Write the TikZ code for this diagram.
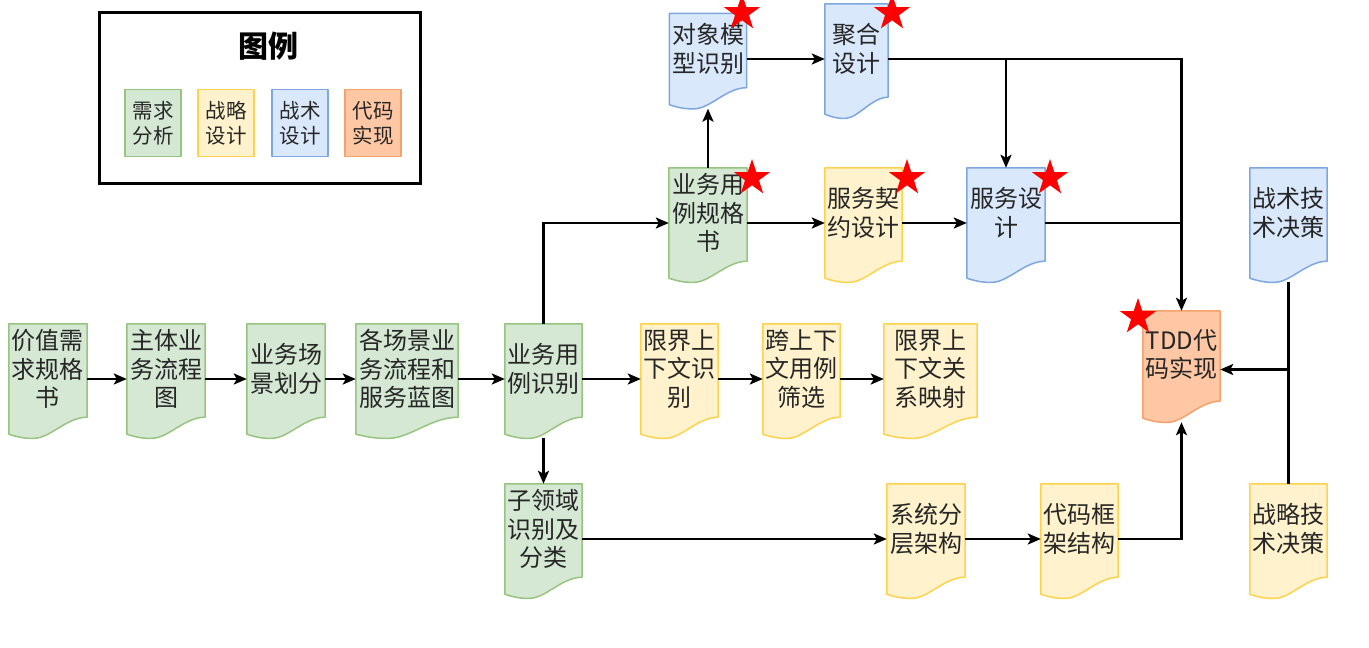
\documentclass[tikz,border=0pt]{standalone}
\usepackage{fontspec}
\setmainfont{Noto Sans CJK SC}
\usetikzlibrary{arrows.meta,calc,backgrounds,shapes.geometric}
\definecolor{reqfill}{HTML}{D5E8D4}
\definecolor{reqline}{HTML}{97C47E}
\definecolor{strfill}{HTML}{FFF2CC}
\definecolor{strline}{HTML}{FFD24D}
\definecolor{tacfill}{HTML}{DAE8FC}
\definecolor{tacline}{HTML}{7EA6E0}
\definecolor{codfill}{HTML}{FFC7A3}
\definecolor{codline}{HTML}{F5A26A}

\begin{document}
\begin{tikzpicture}[
    x=1pt, y=-1pt,
    font=\fontsize{24}{28.5}\selectfont,
    doctext/.style={align=center, inner sep=0pt, yshift=10pt, text=black!85},
    outline/.style={line width=1.5pt, line join=round},
    req/.style={fill=reqfill, draw=reqline},
    str/.style={fill=strfill, draw=strline},
    tac/.style={fill=tacfill, draw=tacline},
    cod/.style={fill=codfill, draw=codline},
    flow/.style={line width=2.5pt, -{Stealth[length=13pt,width=11pt,inset=3pt]}},
    joinline/.style={line width=2.5pt},
    redstar/.style={star, star points=5, star point ratio=2.6, fill=red, minimum size=38pt, inner sep=0pt},
    legitem/.style={outline, minimum width=56pt, minimum height=67pt, align=center,
        inner sep=0pt, text=black!85, font=\fontsize{20.5}{25}\selectfont}
]

\useasboundingbox (0,0) rectangle (1369,648);

% legend
\node[draw, line width=3pt, minimum width=321pt, minimum height=171pt] (legend) at (259.5,97.5) {};
\node (legtitle) at (268,46) {\fontsize{30}{34}\selectfont\bfseries 图例};
\node[legitem, req] (legreq) at (153,123) {需求\\分析};
\node[legitem, str] (legstr) at (226,123) {战略\\设计};
\node[legitem, tac] (legtac) at (300,123) {战术\\设计};
\node[legitem, cod] (legcod) at (373,123) {代码\\实现};

% document shapes
\foreach \n/\x/\y/\w/\h/\c/\t in {
    gz/48/379/78/110/req/价值需\\求规格\\书,
    zt/166/379/78/110/req/主体业\\务流程\\图,
    cj/286/379/78/110/req/业务场\\景划分,
    gcj/407/379/102/110/req/各场景业\\务流程和\\服务蓝图,
    ylsb/543.5/379/77/110/req/业务用\\例识别,
    xjsb/679.5/379/77/110/str/限界上\\下文识\\别,
    kyl/801.5/379/77/110/str/跨上下\\文用例\\筛选,
    gxys/930.5/379/93/110/str/限界上\\下文关\\系映射,
    zly/543.5/539/77/110/req/子领域\\识别及\\分类,
    ylgg/708/223/78/110/req/业务用\\例规格\\书,
    fwqy/863.5/223/77/110/str/服务契\\约设计,
    fw/1006/223/78/110/tac/服务设\\计,
    zs/1288.5/223/77/110/tac/战术技\\术决策,
    dx/708/59/77/91/tac/对象模\\型识别,
    jh/856.5/59/63/110/tac/聚合\\设计,
    tdd/1181.5/364.5/77/107/cod/TDD代\\码实现,
    xtfc/926/539/78/110/str/系统分\\层架构,
    dmkj/1079.5/539/77/110/str/代码框\\架结构,
    zl/1288.5/539/77/110/str/战略技\\术决策
} {
    \node[minimum width=\w pt, minimum height=\h pt, inner sep=0pt,
        label={[doctext]center:\t}] (\n) at (\x,\y) {};
    \begin{scope}[on background layer]
    \path[outline, \c] (\n.north west) -- (\n.north east)
        -- ($(\n.south east)+(0,-17)$)
        .. controls ($(\n.south west)!0.75!(\n.south east)+(0,-17)$)
        and ($(\n.south west)!0.55!(\n.south east)+(0,2)$)
        .. ($(\n.south west)!0.35!(\n.south east)+(0,4)$)
        .. controls ($(\n.south west)!0.2!(\n.south east)+(0,5)$)
        and ($(\n.south west)!0.08!(\n.south east)+(0,2)$)
        .. (\n.south west) -- cycle;
    \end{scope}
}

% stars
\foreach \x/\y [count=\k] in {742/13, 892/13, 752/178, 907/178, 1050/178, 1138/317}
    \node[redstar] (star\k) at (\x,\y) {};

% connectors
\foreach \a/\b in {gz/zt, zt/cj, cj/gcj, gcj/ylsb, ylsb/xjsb, xjsb/kyl, kyl/gxys,
    ylgg/fwqy, fwqy/fw, zly/xtfc, xtfc/dmkj}
    \draw[flow] (\a) -- (\b);

\coordinate (tddin) at ([yshift=-5pt]tdd.east);
\draw[flow] (ylsb.north) |- (ylgg.west);
\draw[flow] ([yshift=-4pt]ylsb.south) -- (zly.north);
\draw[flow] (ylgg.north) -- ([yshift=-4pt]dx.south);
\draw[flow] (dx.east) -- (jh.west);
\draw[flow] (jh.east) -| (tdd.north);
\draw[flow] (jh.east -| fw.north) -- (fw.north);
\draw[joinline] (fw.east) -- (fw.east -| tdd.north);
\draw[flow] ([yshift=-4pt]zs.south) |- (tddin);
\draw[joinline] (zl.north) -- (zl.north |- tddin);
\draw[flow] (dmkj.east) -| ([yshift=-4pt]tdd.south);

\end{tikzpicture}
\end{document}
